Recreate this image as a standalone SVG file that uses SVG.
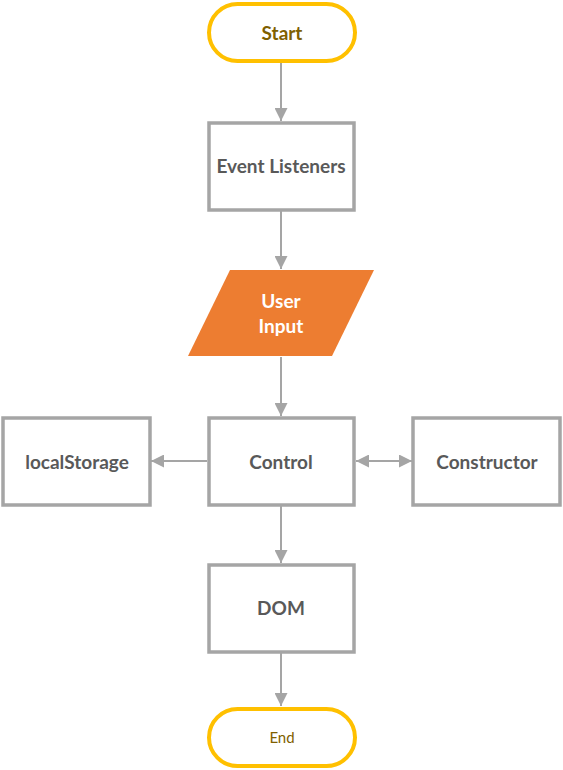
<svg xmlns="http://www.w3.org/2000/svg" width="563" height="770" viewBox="0 0 563 770">
<defs>
<style>
.box{fill:#fff;stroke:#A5A5A5;stroke-width:3.5}
.term{fill:#fff;stroke:#FFC000;stroke-width:4}
.t{font-family:Lato,"Open Sans","Liberation Sans",sans-serif;font-size:19px;font-weight:bold;fill:#595959;text-anchor:middle;dominant-baseline:central}
.tt{fill:#7F6000}
.w{fill:#fff}
.c{stroke:#A5A5A5;stroke-width:2;fill:none}
</style>
<marker id="ah" viewBox="0 0 10 10" refX="10" refY="5" markerWidth="6.5" markerHeight="6.5" markerUnits="strokeWidth" orient="auto-start-reverse">
<path d="M0,0 L10,5 L0,10 Z" fill="#A5A5A5"/>
</marker>
</defs>
<g id="connectors">
<line class="c" x1="281" y1="62" x2="281" y2="121" marker-end="url(#ah)"/>
<line class="c" x1="281" y1="211" x2="281" y2="269" marker-end="url(#ah)"/>
<line class="c" x1="281" y1="357" x2="281" y2="416" marker-end="url(#ah)"/>
<line class="c" x1="207" y1="461" x2="151" y2="461" marker-end="url(#ah)"/>
<line class="c" x1="356" y1="461" x2="412" y2="461" marker-start="url(#ah)" marker-end="url(#ah)"/>
<line class="c" x1="281" y1="506" x2="281" y2="563" marker-end="url(#ah)"/>
<line class="c" x1="281" y1="653" x2="281" y2="706" marker-end="url(#ah)"/>
</g>
<g id="start">
<rect class="term" x="209" y="4" width="146" height="57" rx="28.5"/>
<text class="t tt" x="282" y="32">Start</text>
</g>
<g id="event-listeners">
<rect class="box" x="209" y="123" width="145" height="87"/>
<text class="t" x="281" y="165">Event Listeners</text>
</g>
<g id="user-input">
<polygon points="230,270 374,270 332,356 188,356" fill="#ED7D31"/>
<text class="t w" x="281" y="300">User</text>
<text class="t w" x="281" y="325">Input</text>
</g>
<g id="control">
<rect class="box" x="209" y="418" width="145" height="87"/>
<text class="t" x="281" y="461">Control</text>
</g>
<g id="localstorage">
<rect class="box" x="3" y="418" width="147" height="87"/>
<text class="t" x="77" y="461">localStorage</text>
</g>
<g id="constructor">
<rect class="box" x="413" y="418" width="147" height="87"/>
<text class="t" x="487" y="461">Constructor</text>
</g>
<g id="dom">
<rect class="box" x="209" y="565" width="145" height="87"/>
<text class="t" x="281" y="607">DOM</text>
</g>
<g id="end">
<rect class="term" x="209" y="709" width="146" height="57" rx="28.5"/>
<text class="t tt" x="282" y="737" style="font-weight:normal;font-size:15px">End</text>
</g>
</svg>
